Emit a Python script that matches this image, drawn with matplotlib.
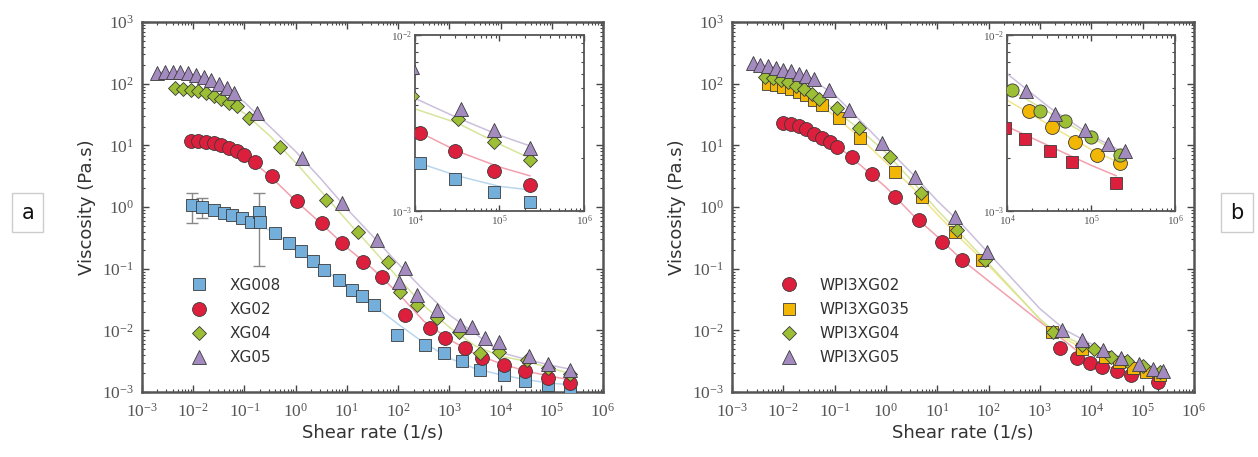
import numpy as np
import matplotlib
matplotlib.use("Agg")
import matplotlib.pyplot as plt
from matplotlib.ticker import LogLocator, NullFormatter

plt.rcParams['mathtext.fontset'] = 'stix'

# ---- panel a : data, as log10 values ----
xg008_x = [-2.02, -1.83, -1.60, -1.40, -1.24, -1.05, -0.88, -0.72, -0.70, -0.40, -0.135, 0.10, 0.33, 0.56,
           0.84, 1.10, 1.29, 1.52, 1.97, 2.53, 2.89, 3.24, 3.60, 4.06, 4.47, 4.93, 5.36]
xg008_y = [0.034, 0.007, -0.047, -0.10, -0.128, -0.18, -0.237, -0.075, -0.25, -0.425, -0.587, -0.71, -0.87, -1.02,
           -1.18, -1.34, -1.45, -1.59, -2.07, -2.235, -2.37, -2.505, -2.64, -2.73, -2.82, -2.89, -2.95]
xg008_err_idx = [0, 1, 7]
xg008_err_lo = [0.53, 0.35, 0.73]
xg008_err_hi = [0.58, 0.40, 0.83]

xg02_x = [-2.05, -1.9, -1.75, -1.6, -1.45, -1.3, -1.15, -1.0, -0.8, -0.46, 0.03, 0.51, 0.90, 1.32, 1.68,
          2.14, 2.63, 2.92, 3.31, 3.64, 4.06, 4.47, 4.93, 5.36]
xg02_y = [1.07, 1.07, 1.055, 1.04, 1.01, 0.96, 0.91, 0.84, 0.73, 0.504, 0.10, -0.263, -0.587, -0.885, -1.128,
          -1.75, -1.965, -2.127, -2.289, -2.451, -2.556, -2.66, -2.77, -2.85]

xg04_x = [-2.35, -2.2, -2.05, -1.9, -1.75, -1.6, -1.45, -1.3, -1.15, -0.92, -0.30, 0.59, 1.225, 1.81, 2.04,
          2.365, 2.755, 3.18, 3.60, 3.96, 4.51, 4.93, 5.36]
xg04_y = [1.93, 1.92, 1.90, 1.88, 1.85, 1.80, 1.75, 1.69, 1.64, 1.44, 0.98, 0.115, -0.398, -0.885, -1.371,
          -1.587, -1.803, -2.019, -2.37, -2.344, -2.48, -2.61, -2.71]

xg05_x = [-2.70, -2.55, -2.40, -2.25, -2.10, -1.95, -1.80, -1.65, -1.50, -1.35, -1.20, -0.75, 0.125, 0.90,
          1.58, 2.01, 2.14, 2.365, 2.755, 3.21, 3.44, 3.70, 3.96, 4.55, 4.93, 5.36]
xg05_y = [2.17, 2.19, 2.19, 2.19, 2.17, 2.14, 2.11, 2.06, 1.99, 1.93, 1.85, 1.52, 0.79, 0.06,
          -0.53, -1.21, -0.99, -1.425, -1.668, -1.911, -1.938, -2.127, -2.181, -2.42, -2.54, -2.64]

# fitted curves (light lines), knots
fit_xg008 = ([-2.0, -1.5, -1.0, -0.5, 0, 0.5, 1, 1.5, 2, 2.5, 3, 3.5, 4, 4.5, 5, 5.36],
             [0.03, -0.07, -0.2, -0.38, -0.65, -0.98, -1.28, -1.58, -1.9, -2.2, -2.45, -2.62, -2.72, -2.80, -2.86, -2.88])
fit_xg02 = ([-2.05, -1.5, -1.0, -0.5, 0, 0.5, 1, 1.5, 2, 2.5, 3, 3.5, 4, 4.5, 5, 5.36],
            [1.07, 1.0, 0.85, 0.50, 0.10, -0.27, -0.66, -1.0, -1.40, -1.85, -2.15, -2.38, -2.54, -2.66, -2.75, -2.80])
fit_xg04 = ([-2.35, -2.0, -1.5, -1.0, -0.5, 0, 0.5, 1, 1.5, 2, 2.5, 3, 3.5, 4, 4.5, 5, 5.36],
            [1.93, 1.91, 1.77, 1.52, 1.15, 0.72, 0.25, -0.22, -0.68, -1.15, -1.60, -1.95, -2.25, -2.42, -2.50, -2.62, -2.70])
fit_xg05 = ([-2.7, -2.0, -1.5, -1.0, -0.5, 0, 0.5, 1, 1.5, 2, 2.5, 3, 3.5, 4, 4.5, 5, 5.36],
            [2.19, 2.15, 1.98, 1.70, 1.30, 0.90, 0.45, -0.03, -0.47, -0.92, -1.35, -1.75, -2.05, -2.36, -2.47, -2.57, -2.63])

# ---- panel b ----
w02_x = [-2.0, -1.85, -1.7, -1.55, -1.4, -1.25, -1.1, -0.95, -0.66, -0.27, 0.18, 0.635, 1.085, 1.475,
         3.39, 3.715, 3.975, 4.21, 4.51, 4.77, 5.30]
w02_y = [1.37, 1.35, 1.32, 1.27, 1.19, 1.12, 1.05, 0.98, 0.817, 0.537, 0.17, -0.21, -0.56, -0.857,
         -2.29, -2.45, -2.53, -2.59, -2.66, -2.72, -2.84]

w035_x = [-2.3, -2.15, -2.0, -1.85, -1.7, -1.55, -1.4, -1.25, -0.92, -0.50, 0.18, 0.70, 1.344, 1.864,
          3.23, 3.81, 4.26, 4.53, 4.81, 5.07, 5.34]
w035_y = [2.00, 1.98, 1.95, 1.91, 1.86, 1.81, 1.74, 1.655, 1.44, 1.115, 0.574, 0.17, -0.40, -0.857,
          -2.02, -2.30, -2.43, -2.52, -2.61, -2.68, -2.73]

w04_x = [-2.35, -2.2, -2.05, -1.9, -1.75, -1.6, -1.45, -1.3, -0.954, -0.532, 0.084, 0.68, 1.377, 1.929,
         3.26, 3.81, 4.06, 4.39, 4.69, 5.0, 5.34]
w04_y = [2.11, 2.09, 2.06, 2.02, 1.97, 1.91, 1.84, 1.75, 1.60, 1.277, 0.817, 0.22, -0.371, -0.857,
         -2.02, -2.235, -2.31, -2.43, -2.49, -2.58, -2.68]

w05_x = [-2.6, -2.45, -2.3, -2.15, -2.0, -1.85, -1.7, -1.55, -1.4, -1.12, -0.73, -0.08, 0.57, 1.344, 1.962,
         3.42, 3.81, 4.23, 4.57, 4.93, 5.20, 5.40]
w05_y = [2.33, 2.31, 2.29, 2.26, 2.23, 2.20, 2.16, 2.12, 2.08, 1.90, 1.574, 1.034, 0.493, -0.155, -0.723,
         -1.99, -2.154, -2.32, -2.45, -2.54, -2.62, -2.66]

fit_w02 = ([-2.0, -1.5, -1.0, -0.5, 0, 0.5, 1, 1.5, 2, 2.5, 3, 3.3, 4, 4.5, 5, 5.3],
           [1.37, 1.26, 1.03, 0.68, 0.32, -0.11, -0.48, -0.87, -1.2, -1.53, -1.86, -2.05, -2.52, -2.63, -2.74, -2.80])
fit_w035 = ([-2.3, -2.0, -1.5, -1.0, -0.5, 0, 0.5, 1, 1.5, 2, 3, 3.3, 4, 4.5, 5, 5.4],
            [2.0, 1.96, 1.78, 1.48, 1.12, 0.72, 0.33, -0.12, -0.55, -0.95, -1.82, -2.05, -2.37, -2.51, -2.65, -2.74])
fit_w04 = ([-2.35, -2.0, -1.5, -1.0, -0.5, 0, 0.5, 1, 1.5, 2, 3, 3.3, 4, 4.5, 5, 5.4],
           [2.11, 2.05, 1.87, 1.58, 1.25, 0.88, 0.43, -0.05, -0.48, -0.92, -1.82, -2.03, -2.30, -2.44, -2.58, -2.69])
fit_w05 = ([-2.6, -2.0, -1.5, -1.0, -0.5, 0, 0.5, 1, 1.5, 2, 3, 3.5, 4, 4.5, 5, 5.4],
           [2.33, 2.24, 2.10, 1.82, 1.40, 0.97, 0.55, 0.10, -0.30, -0.75, -1.65, -2.0, -2.22, -2.41, -2.57, -2.67])

BLUE, RED, GREEN, PURPLE, YELLOW = '#74aedb', '#dc1f3c', '#9cbf35', '#a38bbf', '#f2b705'
BLUE_L, RED_L, GREEN_L, PURPLE_L, YELLOW_L = '#b9d6ee', '#f2a0ae', '#d6e59a', '#cbbfdc', '#f3e58c'
EDGE = '#3a3a3a'
TXT = '#333333'


def p10(v):
    return np.power(10.0, np.asarray(v, dtype=float))


def style_axes(ax, xlim, ylim, lsize=12.5, inset=False):
    ax.set_xscale('log')
    ax.set_yscale('log')
    ax.set_xlim(*xlim)
    ax.set_ylim(*ylim)
    ax.xaxis.set_major_locator(LogLocator(base=10, numticks=15))
    ax.yaxis.set_major_locator(LogLocator(base=10, numticks=15))
    ax.xaxis.set_minor_locator(LogLocator(base=10, subs=np.arange(2, 10), numticks=15))
    ax.yaxis.set_minor_locator(LogLocator(base=10, subs=np.arange(2, 10), numticks=15))
    ax.xaxis.set_minor_formatter(NullFormatter())
    ax.yaxis.set_minor_formatter(NullFormatter())
    ax.tick_params(which='both', direction='in', top=True, right=True, colors='#444444',
                   labelcolor='#555555', labelsize=lsize, labelfontfamily='Liberation Serif')
    ax.tick_params(which='major', length=4 if inset else 5, width=1)
    ax.tick_params(which='minor', length=2 if inset else 2.5, width=0.8)
    if not inset:
        ax.tick_params(axis='x', which='major', pad=8)
        ax.tick_params(axis='y', which='major', pad=6)
    else:
        ax.tick_params(which='major', pad=2)
    for s in ax.spines.values():
        s.set_color('#555555')
        s.set_linewidth(1.3 if inset else 1.8)


def draw(ax, xs, ys, marker, color, ms, label=None):
    ax.plot(p10(xs), p10(ys), linestyle='none', marker=marker, ms=ms, mfc=color,
            mec=EDGE, mew=0.6, label=label, zorder=3)


def fit(ax, knots, color):
    ax.plot(p10(knots[0]), p10(knots[1]), '-', color=color, lw=1.1, zorder=2)


fig = plt.figure(figsize=(12.58, 4.57), dpi=100)

# ---------------- panel a ----------------
axa = fig.add_axes([0.1129, 0.1422, 0.3665, 0.8096])
style_axes(axa, (1e-3, 1e6), (1e-3, 1e3))
for k, c in [(fit_xg008, BLUE_L), (fit_xg02, RED_L), (fit_xg04, GREEN_L), (fit_xg05, PURPLE_L)]:
    fit(axa, k, c)
xb = p10(xg008_x)
yb = p10(xg008_y)
idx = np.array(xg008_err_idx)
axa.errorbar(xb[idx], yb[idx], yerr=[xg008_err_lo, xg008_err_hi], fmt='none',
             ecolor='#888888', elinewidth=1, capsize=4, zorder=2)
draw(axa, xg008_x, xg008_y, 's', BLUE, 8, 'XG008')
draw(axa, xg02_x, xg02_y, 'o', RED, 10, 'XG02')
draw(axa, xg04_x, xg04_y, 'D', GREEN, 7.5, 'XG04')
draw(axa, xg05_x, xg05_y, '^', PURPLE, 10, 'XG05')
axa.set_xlabel('Shear rate (1/s)', fontsize=13, color=TXT, labelpad=2)
axa.set_ylabel('Viscosity (Pa.s)', fontsize=13, color=TXT, labelpad=4)
axa.legend(loc='lower left', bbox_to_anchor=(0.06, 0.035), frameon=False, fontsize=11,
           handletextpad=1.0, labelspacing=0.6, labelcolor=TXT)

ina = fig.add_axes([0.3299, 0.5383, 0.1343, 0.3851])
style_axes(ina, (1e4, 1e6), (1e-3, 1e-2), lsize=8, inset=True)
for k, c in [(fit_xg008, BLUE_L), (fit_xg02, RED_L), (fit_xg04, GREEN_L), (fit_xg05, PURPLE_L)]:
    fit(ina, k, c)
draw(ina, xg008_x, xg008_y, 's', BLUE, 8)
draw(ina, xg02_x, xg02_y, 'o', RED, 10)
draw(ina, xg04_x, xg04_y, 'D', GREEN, 7.5)
draw(ina, xg05_x, xg05_y, '^', PURPLE, 10)

# ---------------- panel b ----------------
axb = fig.add_axes([0.5819, 0.1422, 0.3672, 0.8096])
style_axes(axb, (1e-3, 1e6), (1e-3, 1e3))
for k, c in [(fit_w02, RED_L), (fit_w035, YELLOW_L), (fit_w04, GREEN_L), (fit_w05, PURPLE_L)]:
    fit(axb, k, c)
draw(axb, w02_x, w02_y, 'o', RED, 10, 'WPI3XG02')
draw(axb, w035_x, w035_y, 's', YELLOW, 8, 'WPI3XG035')
draw(axb, w04_x, w04_y, 'D', GREEN, 7.5, 'WPI3XG04')
draw(axb, w05_x, w05_y, '^', PURPLE, 10, 'WPI3XG05')
axb.set_xlabel('Shear rate (1/s)', fontsize=13, color=TXT, labelpad=2)
axb.set_ylabel('Viscosity (Pa.s)', fontsize=13, color=TXT, labelpad=4)
axb.legend(loc='lower left', bbox_to_anchor=(0.06, 0.035), frameon=False, fontsize=11,
           handletextpad=1.0, labelspacing=0.6, labelcolor=TXT)

inb = fig.add_axes([0.8005, 0.5383, 0.1335, 0.3851])
style_axes(inb, (1e4, 1e6), (1e-3, 1e-2), lsize=8, inset=True)
for k, c in [(fit_w02, RED_L), (fit_w035, YELLOW_L), (fit_w04, GREEN_L), (fit_w05, PURPLE_L)]:
    fit(inb, k, c)
# the inset of panel b swaps the symbols of the two lowest series
draw(inb, w02_x, w02_y, 's', RED, 8)
draw(inb, w035_x, w035_y, 'o', YELLOW, 10)
draw(inb, w04_x, w04_y, 'o', GREEN, 9.5)
draw(inb, w05_x, w05_y, '^', PURPLE, 10)

# panel letters in boxes
for xt, lab in [(0.022, 'a'), (0.983, 'b')]:
    fig.text(xt, 0.535, lab, fontsize=15, color='#111111', ha='center', va='center',
             bbox=dict(boxstyle='square,pad=0.45', fc='white', ec='#cccccc', lw=1))

fig.savefig('out.png', dpi=100)
